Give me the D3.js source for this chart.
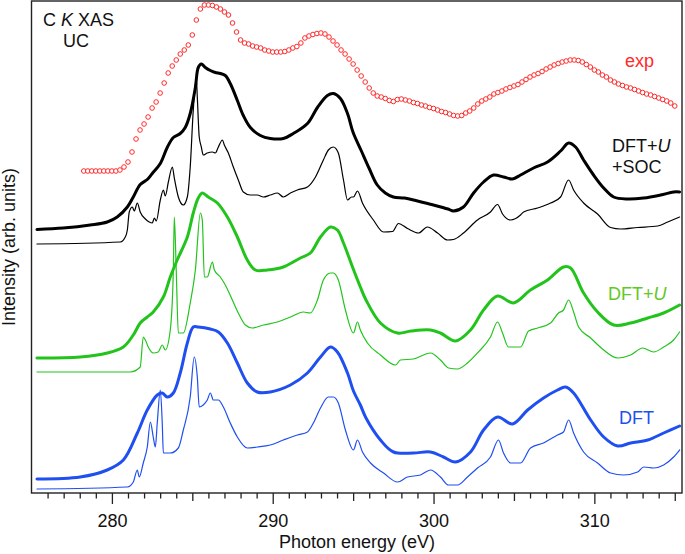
<!DOCTYPE html>
<html><head><meta charset="utf-8">
<script src="https://cdn.jsdelivr.net/npm/d3@7"></script>
<style>html,body{margin:0;padding:0;background:#fff}svg{display:block}text{font-family:"Liberation Sans",Arial,Helvetica,sans-serif}</style>
</head><body>
<svg id="chart" width="685" height="554"></svg>
<script>
// ---------- data ----------
const xDomain = [275, 315.45];
const majorTicks = [280, 290, 300, 310];
const tickLabels = ["280", "290", "300", "310"];
const midTicks = [285, 295, 305, 315];
const minorTicks = [276,277,278,279,281,282,283,284,286,287,288,289,291,292,293,294,296,297,298,299,301,302,303,304,306,307,308,309,311,312,313,314];
const xTitle = "Photon energy (eV)";
const yTitle = "Intensity (arb. units)";
const seriesNames = ["exp", "DFT+U+SOC broadened", "DFT+U+SOC", "DFT+U broadened", "DFT+U", "DFT broadened", "DFT"];
const offsets = [321, 263.5, 249, 135, 121, 14, 4];

// experimental (circles): [eV, intensity]
const expData = [[278.25,1],[278.5,1],[278.75,1],[279,1],[279.25,1],[279.5,1],[279.75,1],[280,1],[280.25,1],[280.5,2],[280.75,5],[281,10],[281.25,20],[281.5,33],[281.75,42],[282,48],[282.25,55],[282.5,64],[282.75,70],[283,79],[283.25,89],[283.5,99],[283.75,106],[284,112],[284.25,118],[284.5,122],[284.75,127],[285,137],[285.25,152],[285.5,163],[285.75,167],[286,167],[286.25,166.5],[286.5,165],[286.75,163],[287,160],[287.25,157],[287.5,149],[287.75,140],[288,132],[288.25,129],[288.5,128],[288.75,126],[289,125],[289.25,124],[289.5,122],[289.75,121],[290,120],[290.25,120],[290.5,120],[290.75,120.5],[291,122],[291.25,124],[291.5,125.5],[291.75,129],[292,134],[292.25,136],[292.5,137.5],[292.75,138.5],[293,139],[293.25,138],[293.5,135],[293.75,131],[294,127],[294.25,122],[294.5,118],[294.75,113],[295,108],[295.25,102],[295.5,96],[295.75,90],[296,84],[296.25,79],[296.5,76],[296.75,75],[297,73.5],[297.25,71.5],[297.5,70.5],[297.75,72.5],[298,73],[298.25,72],[298.5,71],[298.75,69.5],[299,68.5],[299.25,67],[299.5,66],[299.75,64.5],[300,63.5],[300.25,62],[300.5,60.5],[300.75,59.5],[301,58],[301.25,56.5],[301.5,56],[301.75,56.5],[302,59],[302.25,61],[302.5,64],[302.75,68],[303,71],[303.25,73],[303.5,75],[303.75,78],[304,79.5],[304.25,81],[304.5,83],[304.75,84.5],[305,86],[305.25,87.5],[305.5,90],[305.75,92.5],[306,95],[306.25,97],[306.5,98.5],[306.75,100.5],[307,103],[307.25,105],[307.5,107],[307.75,108.5],[308,110],[308.25,111],[308.5,112],[308.75,112],[309,111.5],[309.25,110],[309.5,107.5],[309.75,105],[310,102],[310.25,100],[310.5,97],[310.75,95],[311,92],[311.25,90],[311.5,88],[311.75,86.5],[312,85],[312.25,84],[312.5,82.5],[312.75,81],[313,79.5],[313.25,78],[313.5,77],[313.75,75.5],[314,74],[314.25,72.5],[314.5,71],[314.75,69],[315,66]];

const socBroad = [[275.34,0],[276.97,1.5],[278.65,4.5],[279.71,7.5],[280.33,12.5],[280.96,22.5],[281.33,32.5],[281.76,45],[282.2,50],[282.51,56],[283.01,66],[283.44,82],[283.82,92],[284.25,96],[284.56,102],[284.87,116],[285.19,142],[285.37,162],[285.56,165.5],[285.81,162],[286.12,159],[286.43,157],[286.74,156],[287.05,154],[287.36,146],[287.8,129],[288.17,114],[288.61,102],[289.23,94],[289.85,91],[290.66,91],[291.28,96],[292.16,106],[292.78,122],[293.4,134],[293.77,136],[294.21,131],[294.65,116],[295.0,97],[295.5,79],[296.0,61],[296.5,44.5],[297.0,36.5],[297.5,32.5],[298.2,31.5],[299.0,28.5],[300.0,24.5],[300.9,20.5],[301.24,18.5],[301.86,22.5],[302.49,36.5],[303.11,47.5],[303.73,54.5],[304.35,52.5],[304.91,50.5],[305.41,54.5],[306.22,61.5],[307.09,67.5],[307.9,78.5],[308.4,86.5],[308.83,82.5],[309.33,69.5],[309.95,54.5],[310.58,41.5],[311.2,32.5],[312.07,30.5],[313.07,31.5],[314.12,34.5],[314.93,37.5],[315.3,37.5]];

const socRaw = [[275.34,0],[280.52,2],[280.83,7],[280.96,14],[281.08,32],[281.27,37],[281.39,33],[281.58,41],[281.76,32],[282.08,25],[282.32,22],[282.51,21],[282.64,26],[282.76,23],[283.01,44],[283.2,54],[283.32,48],[283.51,62],[283.76,77],[283.88,66],[284.13,47],[284.44,39],[284.69,47],[284.87,77],[285.06,134],[285.25,166],[285.31,147],[285.43,107],[285.56,97],[285.68,89],[285.93,91],[286.25,92],[286.43,91],[286.62,97],[286.87,104],[286.99,99],[287.24,91],[287.55,77],[287.86,64],[288.17,52],[288.61,49],[289.04,49],[289.42,47],[289.85,49],[290.29,51],[290.66,47],[291.1,51],[291.53,54],[292.16,57],[292.66,67],[293.15,84],[293.46,94],[293.77,97],[294.08,91],[294.4,64],[294.65,44],[294.9,47],[295.02,47],[295.27,53],[295.58,41],[296.26,24],[296.89,12],[297.45,12.5],[297.82,20.5],[298.38,15.5],[299.06,11],[299.62,17],[300.25,11],[300.87,4],[301.24,4.5],[301.86,11],[302.73,24],[303.54,32],[303.98,39.5],[304.29,30],[304.79,24],[305.41,29],[305.6,32],[306.47,36],[307.28,41],[307.9,47],[308.4,64],[308.71,54],[309.33,41],[310.2,30],[311.01,16.5],[311.63,15],[312.69,16.5],[313.94,18],[314.56,22],[315.3,27]];

const uBroad = [[275.34,0],[278.03,1],[279.71,5],[280.71,11],[281.33,23],[281.76,35],[282.2,41],[282.57,46],[283.2,61],[283.63,81],[284.06,98],[284.69,121],[285.06,145],[285.37,160],[285.62,165],[285.99,161],[286.56,155],[287.18,141],[287.8,121],[288.42,98],[288.92,88],[289.66,88],[290.66,91],[291.72,100],[292.34,105],[292.97,121],[293.59,131],[294.02,128],[294.4,115],[294.96,91],[295.45,71],[295.8,58],[296.7,35],[297.76,25],[298.6,27],[299.81,28],[300.43,25],[301.37,17],[302.3,28],[303.11,48],[303.98,62],[304.97,55],[306.03,68],[307.09,78],[308.08,91],[308.52,90],[309.33,65],[310.2,46],[311.2,33],[312.26,35],[313.32,40],[314.31,45],[315.3,53]];

const uRaw = [[275.34,0],[281.14,0],[281.76,5],[281.95,35],[282.08,32],[282.26,25],[282.57,19],[282.88,20],[283.13,27],[283.32,22],[283.63,42],[283.82,102],[283.88,155],[284.0,102],[284.13,39],[284.44,39],[284.87,69],[285.19,102],[285.5,159],[285.62,152],[285.75,95],[285.93,95],[286.25,110],[286.37,102],[286.74,95],[287.05,87],[287.49,72],[287.86,59],[288.3,47],[288.73,44],[289.42,47],[290.29,50],[291.1,55],[291.91,60],[292.34,59],[292.78,72],[293.15,92],[293.59,99],[293.77,99],[294.08,92],[294.52,62],[295.02,39],[295.27,50],[295.45,42],[295.89,29],[296.7,17],[297.64,7],[297.94,12],[298.75,13],[299.81,19],[300.43,12],[300.93,4],[301.49,3],[302.11,9],[302.73,19],[303.54,35],[303.98,50],[304.29,39],[304.66,25],[305.41,25],[305.91,41],[306.47,44],[307.28,49],[307.77,59],[308.08,62],[308.4,72],[308.71,60],[309.02,45],[309.77,34],[310.58,22],[311.45,14],[312.26,17],[313.0,24],[313.69,20],[314.31,25],[314.93,32],[315.3,40]];

const dftBroad = [[275.34,0],[278.03,2],[279.71,9],[280.71,19],[281.58,46],[282.2,69],[282.82,84],[283.13,86],[283.44,82],[283.82,86],[284.25,106],[284.69,136],[285.06,152],[285.37,152],[286.12,150],[286.62,147],[287.18,136],[287.8,116],[288.42,96],[289.04,87],[289.85,87],[291.1,94],[292.16,106],[292.97,122],[293.59,132],[294.02,127],[294.65,106],[295.02,88],[295.45,74],[295.8,61],[296.7,39],[297.51,27],[298.75,26],[299.81,27],[300.62,22],[301.37,17],[302.3,27],[303.11,49],[303.98,62],[304.91,55],[305.85,69],[306.84,81],[307.71,89],[308.21,92],[308.71,86],[309.77,59],[310.58,42],[311.45,33],[312.26,36],[313.32,39],[314.31,46],[315.3,53]];

const dftRaw = [[275.34,0],[280.96,2],[281.33,7],[281.58,19],[281.7,12],[281.95,26],[282.2,42],[282.39,67],[282.57,52],[282.7,42],[282.82,66],[283.01,99],[283.13,66],[283.2,36],[283.63,36],[284.13,41],[284.44,59],[284.87,92],[285.12,132],[285.31,112],[285.43,82],[285.68,84],[285.93,89],[286.12,96],[286.31,89],[286.62,89],[286.93,82],[287.36,66],[287.8,52],[288.42,41],[289.04,42],[289.85,44],[290.66,49],[291.53,54],[292.16,57],[292.53,66],[292.97,81],[293.46,92],[293.77,92],[294.08,86],[294.52,59],[295.02,39],[295.27,49],[295.58,37],[296.08,26],[296.89,16],[297.76,7],[298.38,12],[299.19,14],[299.81,19],[300.43,12],[300.93,4],[301.49,4],[302.11,12],[302.73,21],[303.54,32],[304.04,49],[304.35,36],[304.79,26],[305.41,26],[306.03,41],[306.84,46],[307.71,54],[308.08,57],[308.4,69],[308.71,56],[309.33,37],[310.2,26],[311.01,16],[311.82,14],[312.69,17],[313.07,22],[313.69,21],[314.31,24],[314.93,32],[315.3,39]];

// ---------- drawing ----------
const svg = d3.select("#chart");
const W = 685, H = 554;
const plot = {left: 31.5, right: 682, top: 1, bottom: 493};
const x = d3.scaleLinear().domain(xDomain).range([plot.left, plot.right]);
const y = d3.scaleLinear().domain([0, 492]).range([plot.bottom, plot.top]);

const colors = {exp: "#ff2a2a", black: "#000000", green: "#22c41c", greenText: "#62c826", blue: "#1f4ff0"};

function drawLine(data, off, color, width, curve) {
  const line = d3.line().x(d => x(d[0])).y(d => y(d[1] + off)).curve(curve);
  svg.append("path").datum(data).attr("d", line)
    .attr("fill", "none").attr("stroke", color).attr("stroke-width", width)
    .attr("stroke-linejoin", "round").attr("stroke-linecap", "round");
}

drawLine(socRaw, offsets[2], colors.black, 1.2, d3.curveMonotoneX);
drawLine(socBroad, offsets[1], colors.black, 3, d3.curveCatmullRom.alpha(0.5));
drawLine(uRaw, offsets[4], colors.green, 1.2, d3.curveMonotoneX);
drawLine(uBroad, offsets[3], colors.green, 3, d3.curveCatmullRom.alpha(0.5));
drawLine(dftRaw, offsets[6], colors.blue, 1.2, d3.curveMonotoneX);
drawLine(dftBroad, offsets[5], colors.blue, 3, d3.curveCatmullRom.alpha(0.5));

svg.append("g").selectAll("circle").data(expData).join("circle")
  .attr("cx", d => x(d[0])).attr("cy", d => y(d[1] + offsets[0]))
  .attr("r", 2.3).attr("fill", "#fff").attr("stroke", colors.exp).attr("stroke-width", 1);

// frame
svg.append("rect").attr("x", plot.left).attr("y", plot.top)
  .attr("width", plot.right - plot.left).attr("height", plot.bottom - plot.top)
  .attr("fill", "none").attr("stroke", "#222").attr("stroke-width", 1.4);

// x axis ticks
function tickGroup(values, size, labels) {
  const ax = d3.axisBottom(x).tickValues(values).tickSize(size).tickSizeOuter(0)
    .tickFormat((d, i) => labels ? labels[i] : "");
  const g = svg.append("g").attr("transform", `translate(0,${plot.bottom})`).call(ax);
  g.select(".domain").remove();
  g.selectAll(".tick line").attr("stroke", "#222").attr("stroke-width", 1.3);
  g.selectAll(".tick text").attr("font-size", 18).attr("fill", "#111").attr("y", 21);
  return g;
}
tickGroup(minorTicks, 5.5, null);
tickGroup(midTicks, 8, null);
tickGroup(majorTicks, 11, tickLabels);

svg.append("text").attr("x", 357).attr("y", 548).attr("text-anchor", "middle")
  .attr("font-size", 18).attr("fill", "#111").text(xTitle);
svg.append("text").attr("transform", "translate(14.5,247) rotate(-90)")
  .attr("text-anchor", "middle").attr("font-size", 18).attr("fill", "#111").text(yTitle);

// annotations
const t1 = svg.append("text").attr("x", 43).attr("y", 26).attr("font-size", 18).attr("fill", "#111");
t1.append("tspan").text("C ");
t1.append("tspan").attr("font-style", "italic").text("K");
t1.append("tspan").text(" XAS");
svg.append("text").attr("x", 63).attr("y", 47).attr("font-size", 18).attr("fill", "#111").text("UC");

svg.append("text").attr("x", 625).attr("y", 67).attr("font-size", 18).attr("fill", colors.exp).text("exp");
const t2 = svg.append("text").attr("x", 612).attr("y", 152).attr("font-size", 18).attr("fill", "#111");
t2.append("tspan").text("DFT+");
t2.append("tspan").attr("font-style", "italic").text("U");
svg.append("text").attr("x", 612).attr("y", 173).attr("font-size", 18).attr("fill", "#111").text("+SOC");
const t3 = svg.append("text").attr("x", 608).attr("y", 300).attr("font-size", 18).attr("fill", colors.greenText);
t3.append("tspan").text("DFT+");
t3.append("tspan").attr("font-style", "italic").text("U");
svg.append("text").attr("x", 619).attr("y", 424).attr("font-size", 18).attr("fill", colors.blue).text("DFT");
</script>
</body></html>
